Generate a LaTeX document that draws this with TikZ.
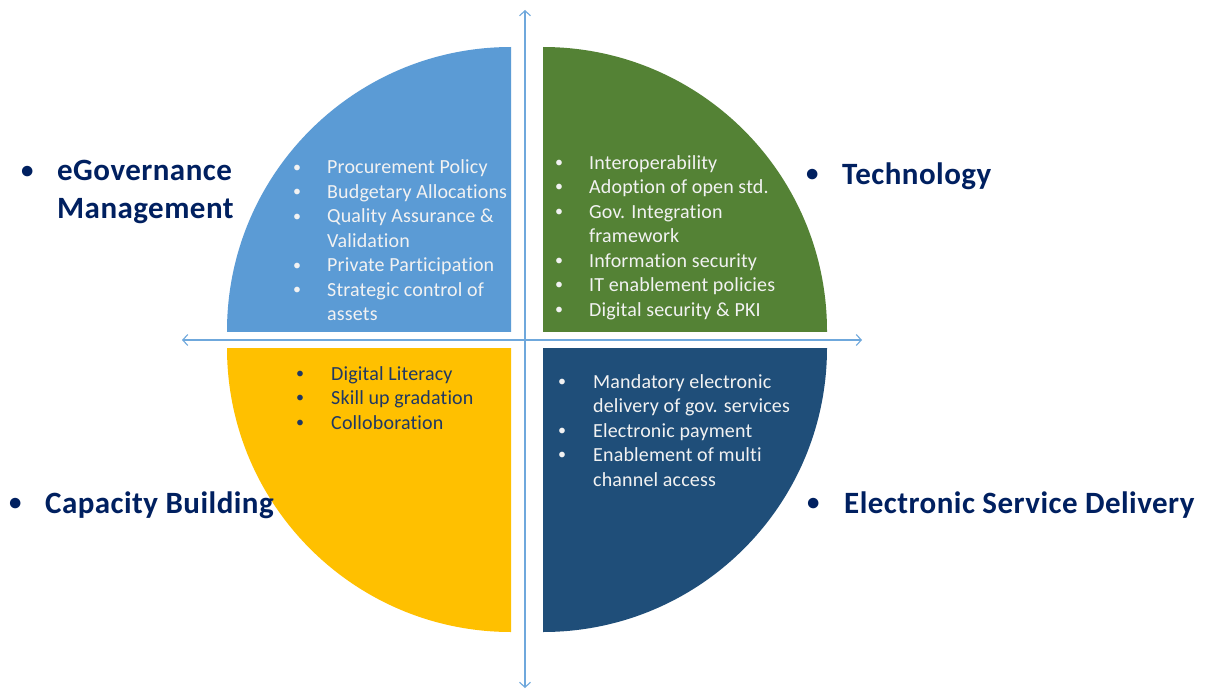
\documentclass[tikz,border=0pt]{standalone}
\usepackage{fontspec}
\setmainfont[Ligatures=NoCommon]{Carlito}
\usetikzlibrary{arrows.meta}
\definecolor{qblue}{HTML}{5B9BD5}
\definecolor{qgreen}{HTML}{548235}
\definecolor{qyellow}{HTML}{FFC000}
\definecolor{qdark}{HTML}{1F4E79}
\definecolor{navy}{HTML}{002060}
\definecolor{ytext}{HTML}{1F3864}
\definecolor{wtext}{HTML}{F2F2F2}
\definecolor{axis}{HTML}{6FA8DC}
\newcommand\bul{\raisebox{0.08em}{\scalebox{0.8}{\textbullet}}}
\begin{document}
\begin{tikzpicture}[x=1pt,y=-1pt,
  qtext/.style={anchor=base west,inner sep=0pt,font=\fontsize{20}{24.5}\selectfont\addfontfeature{LetterSpace=0.8}},
  lab/.style={anchor=base west,inner sep=0pt,text=navy,font=\fontsize{31}{38}\selectfont\bfseries\addfontfeature{LetterSpace=1.5}},
  axisline/.style={draw=axis,line width=1.1pt,{Straight Barb[length=5pt,width=11pt]}-{Straight Barb[length=5pt,width=11pt]}}]
\useasboundingbox (0,0) rectangle (1205,690);
\fill[white] (0,0) rectangle (1205,690);
% quadrants
\begin{scope}\clip (200,30) rectangle (511,331);
\fill[qblue] (511,331) circle[radius=284];\end{scope}
\begin{scope}\clip (543,30) rectangle (860,331);
\fill[qgreen] (543,331) circle[radius=284];\end{scope}
\begin{scope}\clip (200,348) rectangle (511,660);
\fill[qyellow] (511,348) circle[radius=284];\end{scope}
\begin{scope}\clip (543,348) rectangle (860,660);
\fill[qdark] (543,348) circle[radius=284];\end{scope}
% axes
\coordinate (ytop) at (525,10);
\coordinate (ybot) at (525,688);
\coordinate (xl) at (182,340);
\coordinate (xr) at (862,340);
\draw[axisline] (ybot) -- (ytop);
\draw[axisline] (xl) -- (xr);
% quadrant texts
\node[qtext,text=wtext] (mgmt) at (293,174) {\begin{tabular}[t]{@{}p{34pt}@{}l@{}}
\bul & Procurement Policy\\
\bul & Budgetary Allocations\\
\bul & Quality Assurance \&\\
 & Validation\\
\bul & Private Participation\\
\bul & Strategic control of\\
 & assets\end{tabular}};
\node[qtext,text=wtext] (tech) at (555,169) {\begin{tabular}[t]{@{}p{34pt}@{}l@{}}
\bul & Interoperability\\
\bul & Adoption of open std.\\
\bul & Gov. Integration\\
 & framework\\
\bul & Information security\\
\bul & IT enablement policies\\
\bul & Digital security \& PKI\end{tabular}};
\node[qtext,text=ytext] (cap) at (296,380) {\begin{tabular}[t]{@{}p{35pt}@{}l@{}}
\bul & Digital Literacy\\
\bul & Skill up gradation\\
\bul & Colloboration\end{tabular}};
\node[qtext,text=wtext] (esd) at (558,388) {\begin{tabular}[t]{@{}p{35pt}@{}l@{}}
\bul & Mandatory electronic\\
 & delivery of gov. services\\
\bul & Electronic payment\\
\bul & Enablement of multi\\
 & channel access\end{tabular}};
% labels
\node[lab] (lmgmt) at (21,181) {\begin{tabular}[t]{@{}p{36pt}@{}l@{}}
\bul & eGovernance\\
 & Management\end{tabular}};
\node[lab] (ltech) at (806,184) {\begin{tabular}[t]{@{}p{36pt}@{}l@{}}
\bul & Technology\end{tabular}};
\node[lab] (lcap) at (9,513) {\begin{tabular}[t]{@{}p{36pt}@{}l@{}}
\bul & Capacity Building\end{tabular}};
\node[lab] (lesd) at (807,513) {\begin{tabular}[t]{@{}p{37pt}@{}l@{}}
\bul & Electronic Service Delivery\end{tabular}};
\end{tikzpicture}
\end{document}
